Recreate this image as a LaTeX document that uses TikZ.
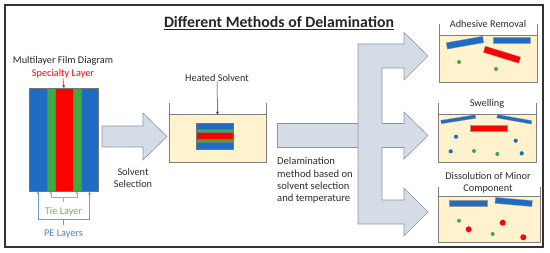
\documentclass[tikz,border=0pt]{standalone}
\usepackage{fontspec}
\setmainfont{Carlito}
\usetikzlibrary{arrows.meta,positioning}

\definecolor{peblue}{RGB}{30,108,196}
\definecolor{tiegreen}{RGB}{63,170,63}
\definecolor{corered}{RGB}{255,0,0}
\definecolor{solventfill}{RGB}{255,242,204}
\definecolor{arrowfill}{RGB}{214,220,229}
\definecolor{arrowedge}{RGB}{132,151,176}
\definecolor{labeltext}{RGB}{45,45,45}
\definecolor{tietext}{RGB}{112,180,80}
\definecolor{petext}{RGB}{70,130,210}

\begin{document}
\begin{tikzpicture}[x=1pt, y=-1pt,
    % --- Styles ---
    label node/.style={font=\fontsize{10.3}{12}\selectfont, text=labeltext, inner sep=0pt, align=center},
    title node/.style={font=\fontsize{15.8}{18}\selectfont\bfseries, text=black!85, inner sep=0pt},
    % Film layers are drawn as thin outlined boxes
    layer node/.style={draw=black!55, line width=0.4pt, inner sep=0pt, anchor=north west},
    bar node/.style={draw=black!40, line width=0.3pt, inner sep=0pt},
    block arrow/.style={fill=arrowfill, draw=arrowedge, line width=0.6pt, line join=miter},
    beaker line/.style={draw=black!50, line width=0.7pt},
    small arrow/.style={line width=0.5pt, -{Stealth[length=3pt,width=3pt]}},
    tie line/.style={draw=tietext!80, line width=0.5pt},
    pe line/.style={draw=petext!80, line width=0.5pt},
    dot/.style={fill=#1}
]

%================CONFIGURATION================
% Film diagram geometry (pixels, y downwards)
\def\filmtop{88}
\def\filmheight{103}
% Beaker stack geometry
\def\stackleft{196}
\def\stackwidth{37.3}
%=============================================

\useasboundingbox (0,0) rectangle (550,253);

% --- 1. Frame and title ---
\draw[black!80, line width=1.6pt] (5,5) rectangle (543,247);
\node[title node] (title) at (279,23) {\underline{Different Methods of Delamination}};

% --- 2. Multilayer film ---
\node[label node, text=black!85] (film label) at (63,61) {Multilayer Film Diagram};
\node[label node, text=corered] (spec label) at (63,73.5) {Specialty Layer};

\foreach \nm/\x/\w/\col in {pe1/29/17.7/peblue, tie1/46.7/8/tiegreen, core/54.7/18/corered,
                             tie2/72.7/8/tiegreen, pe2/80.7/17.3/peblue}
    \node[layer node, fill=\col, minimum width=\w pt, minimum height=\filmheight pt] (\nm) at (\x,\filmtop) {};

\draw[small arrow, corered] (spec label.south) -- (core.north);

% Tie layer bracket
\node[label node, text=tietext] (tie label) at (63.5,212) {Tie Layer};
\coordinate (tie fork) at (63.5,197);
\draw[tie line, shorten >=5pt] (tie fork) -- (tie label.north);
\draw[tie line, small arrow] (tie fork) -| (tie1.south);
\draw[tie line, small arrow] (tie fork) -| (tie2.south);

% PE layer bracket
\node[label node, text=petext] (pe label) at (63.5,234) {PE Layers};
\coordinate (pe fork) at (63.5,219);
\draw[pe line, shorten >=5pt] (pe fork) -- (pe label.north);
\draw[pe line, small arrow] (pe fork) -| (pe1.south);
\draw[pe line, small arrow] (pe fork) -| (pe2.south);

% --- 3. Solvent selection arrow ---
\draw[block arrow] (102,126) -- (143,126) -- (143,113) -- (167,136.5) -- (143,160) -- (143,147) -- (102,147) -- cycle;
\node[label node] (select label) at (133,177.5) {Solvent\\Selection};

% --- 4. Beakers ---
\foreach \xl/\xr/\yt/\ys/\yb in {169/266/103/114.5/162, 439/537/24/35/82,
                                 438.5/536/103/114/162, 438.5/540/187/196/242} {
    \fill[solventfill] (\xl,\ys) rectangle (\xr,\yb);
    \draw[beaker line] (\xl,\yt) -- (\xl,\yb) -- (\xr,\yb) -- (\xr,\yt);
    \draw[beaker line] (\xl,\ys) -- (\xr,\ys);
}
\coordinate (heat surface) at (217.5,114.5);

\node[label node] (heat label) at (217,77.5) {Heated Solvent};
\draw[small arrow, black!80] (heat label.south) -- (heat surface);

% Film stack sitting in the heated solvent
\foreach \nm/\y/\h/\col in {s1/123.3/5.7/peblue, s2/129/3.3/tiegreen, s3/132.3/7/corered,
                             s4/139.3/3/tiegreen, s5/142.3/7/peblue}
    \node[layer node, fill=\col, minimum width=\stackwidth pt, minimum height=\h pt] (\nm) at (\stackleft,\y) {};

% --- 5. Branching arrow ---
\draw[block arrow] (277,123.5) rectangle (358,147.5);
\draw[block arrow] (358,44) -- (404,44) -- (404,32.5) -- (428,56) -- (404,80) -- (404,68) -- (382,68)
    -- (382,123.5) -- (404,123.5) -- (404,112) -- (428,135.5) -- (404,159) -- (404,147.5) -- (382,147.5)
    -- (382,200) -- (404,200) -- (404,188) -- (428,212) -- (404,236) -- (404,224) -- (358,224) -- cycle;

\node[label node, font=\fontsize{10.6}{12.3}\selectfont, align=left, anchor=west] (method label) at (277,180.5)
    {Delamination\\method based on\\solvent selection\\and temperature};

% --- 6. Outcomes ---
% Adhesive removal
\node[label node] (adh label) at (488,24) {Adhesive Removal};
\node[bar node, fill=peblue, minimum width=37pt, minimum height=6.5pt, rotate=10] (adh bar1) at (465,42.7) {};
\node[bar node, fill=peblue, minimum width=37pt, minimum height=6pt] (adh bar2) at (511.5,40) {};
\node[bar node, fill=corered, minimum width=37pt, minimum height=6.5pt, rotate=-17] (adh core) at (502,54.7) {};
\foreach \p in {(459,62), (496,69)}
    \fill[dot=tiegreen] \p circle (2);

% Swelling
\node[label node] (swell label) at (487,104) {Swelling};
\node[bar node, fill=peblue, minimum width=35pt, minimum height=3.5pt, rotate=9] (swell bar1) at (458.3,119.3) {};
\node[bar node, fill=peblue, minimum width=35pt, minimum height=3.5pt, rotate=-10] (swell bar2) at (514.3,119.3) {};
\node[bar node, fill=corered, minimum width=37.3pt, minimum height=6.7pt] (swell core) at (488.7,128.3) {};
\foreach \p in {(456,136.7), (515.7,140.7), (450.7,151.3), (521.7,153.3)}
    \fill[dot=peblue] \p circle (2.1);
\foreach \p in {(474,151), (497.3,154)}
    \fill[dot=tiegreen] \p circle (2);

% Dissolution of minor component
\node[label node] (diss label) at (488,182.5) {Dissolution of Minor\\Component};
\node[bar node, fill=peblue, minimum width=38pt, minimum height=5.5pt] (diss bar1) at (468,203.3) {};
\node[bar node, fill=peblue, minimum width=37pt, minimum height=6pt, rotate=-5] (diss bar2) at (513.7,202) {};
\foreach \p in {(459,220.7), (492.7,234)}
    \fill[dot=tiegreen] \p circle (2);
\foreach \p in {(468.7,229.3), (502.7,222.7), (523.3,237.3)}
    \fill[dot=corered] \p circle (3);

\end{tikzpicture}
\end{document}
